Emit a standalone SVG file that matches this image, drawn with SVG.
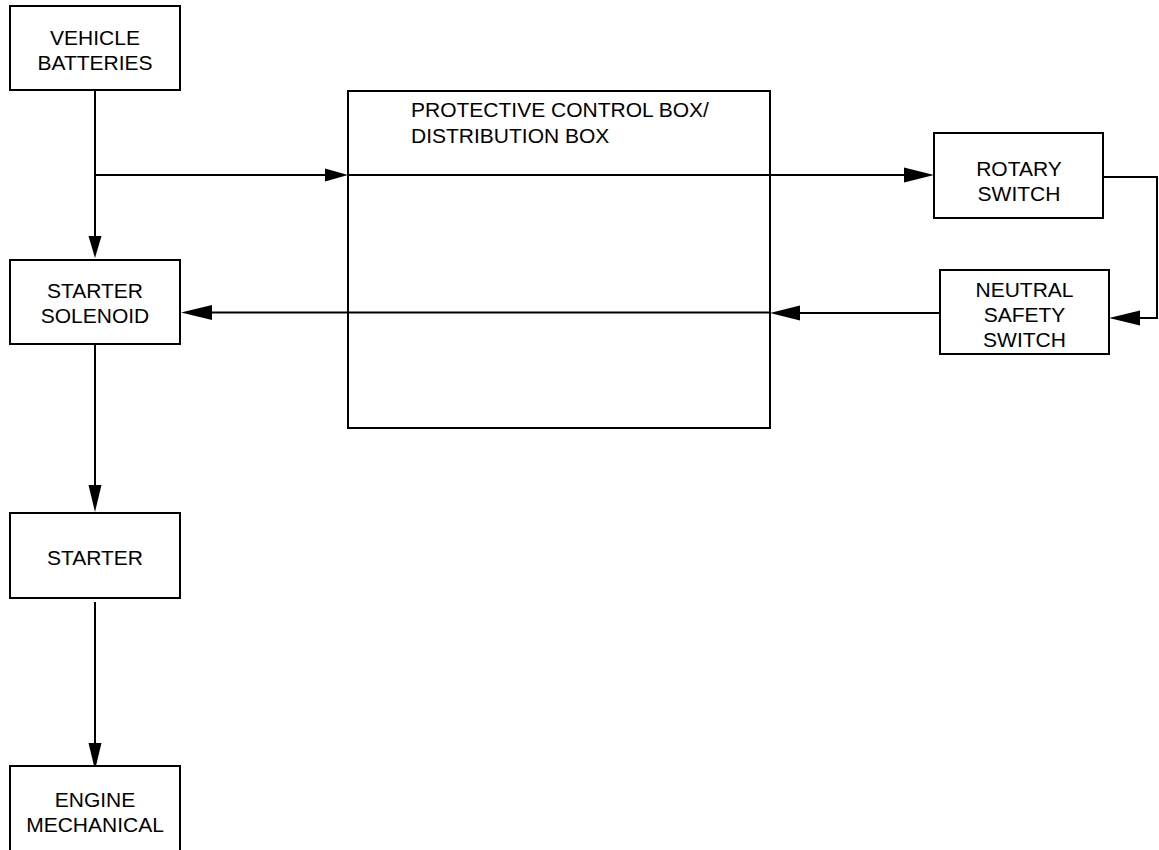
<svg xmlns="http://www.w3.org/2000/svg" width="1159" height="850" viewBox="0 0 1159 850">
<style>
.box{fill:#fff;stroke:#000;stroke-width:2}
.ln{fill:none;stroke:#000;stroke-width:2}
.ah{fill:#000;stroke:none}
text{font-family:"Liberation Sans",Arial,sans-serif;font-size:21px;fill:#000}
.c{text-anchor:middle}
</style>
<rect width="1159" height="850" fill="#fff"/>
<g id="protective-box">
<rect class="box" x="348" y="91" width="422" height="337"/>
<text x="411" y="117">PROTECTIVE CONTROL BOX/</text>
<text x="411" y="143">DISTRIBUTION BOX</text>
</g>
<g id="connectors">
<line class="ln" x1="95" y1="90" x2="95" y2="240"/>
<polygon class="ah" points="95,258 88.5,236 101.5,236"/>
<line class="ln" x1="95" y1="175" x2="328" y2="175"/>
<polygon class="ah" points="348,175 325,168.5 325,181.5"/>
<line class="ln" x1="348" y1="175" x2="906" y2="175"/>
<polygon class="ah" points="934,175 904,167.5 904,182.5"/>
<polyline class="ln" points="1103,177 1157,177 1157,318 1138,318"/>
<polygon class="ah" points="1109,318 1140,310.5 1140,325.5"/>
<line class="ln" x1="940" y1="313" x2="798" y2="313"/>
<polygon class="ah" points="770,313 800,305.5 800,320.5"/>
<line class="ln" x1="770" y1="312.5" x2="210" y2="312.5"/>
<polygon class="ah" points="181,312.5 212,305 212,320"/>
<line class="ln" x1="95" y1="344" x2="95" y2="488"/>
<polygon class="ah" points="95,512 88.5,485 101.5,485"/>
<line class="ln" x1="95" y1="602" x2="95" y2="746"/>
<polygon class="ah" points="95,770 88.5,743 101.5,743"/>
</g>
<g id="vehicle-batteries">
<rect class="box" x="10" y="6" width="170" height="84"/>
<text class="c" x="95" y="45">VEHICLE</text>
<text class="c" x="95" y="70">BATTERIES</text>
</g>
<g id="starter-solenoid">
<rect class="box" x="10" y="260" width="170" height="84"/>
<text class="c" x="95" y="298">STARTER</text>
<text class="c" x="95" y="323">SOLENOID</text>
</g>
<g id="starter">
<rect class="box" x="10" y="513" width="170" height="85"/>
<text class="c" x="95" y="565">STARTER</text>
</g>
<g id="engine-mechanical">
<rect class="box" x="10" y="766" width="170" height="100"/>
<text class="c" x="95" y="807">ENGINE</text>
<text class="c" x="95" y="832">MECHANICAL</text>
</g>
<g id="rotary-switch">
<rect class="box" x="934" y="133" width="169" height="85"/>
<text class="c" x="1019" y="176">ROTARY</text>
<text class="c" x="1019" y="201">SWITCH</text>
</g>
<g id="neutral-safety-switch">
<rect class="box" x="940" y="270" width="169" height="84"/>
<text class="c" x="1024.5" y="297">NEUTRAL</text>
<text class="c" x="1024.5" y="322">SAFETY</text>
<text class="c" x="1024.5" y="347">SWITCH</text>
</g>
</svg>
